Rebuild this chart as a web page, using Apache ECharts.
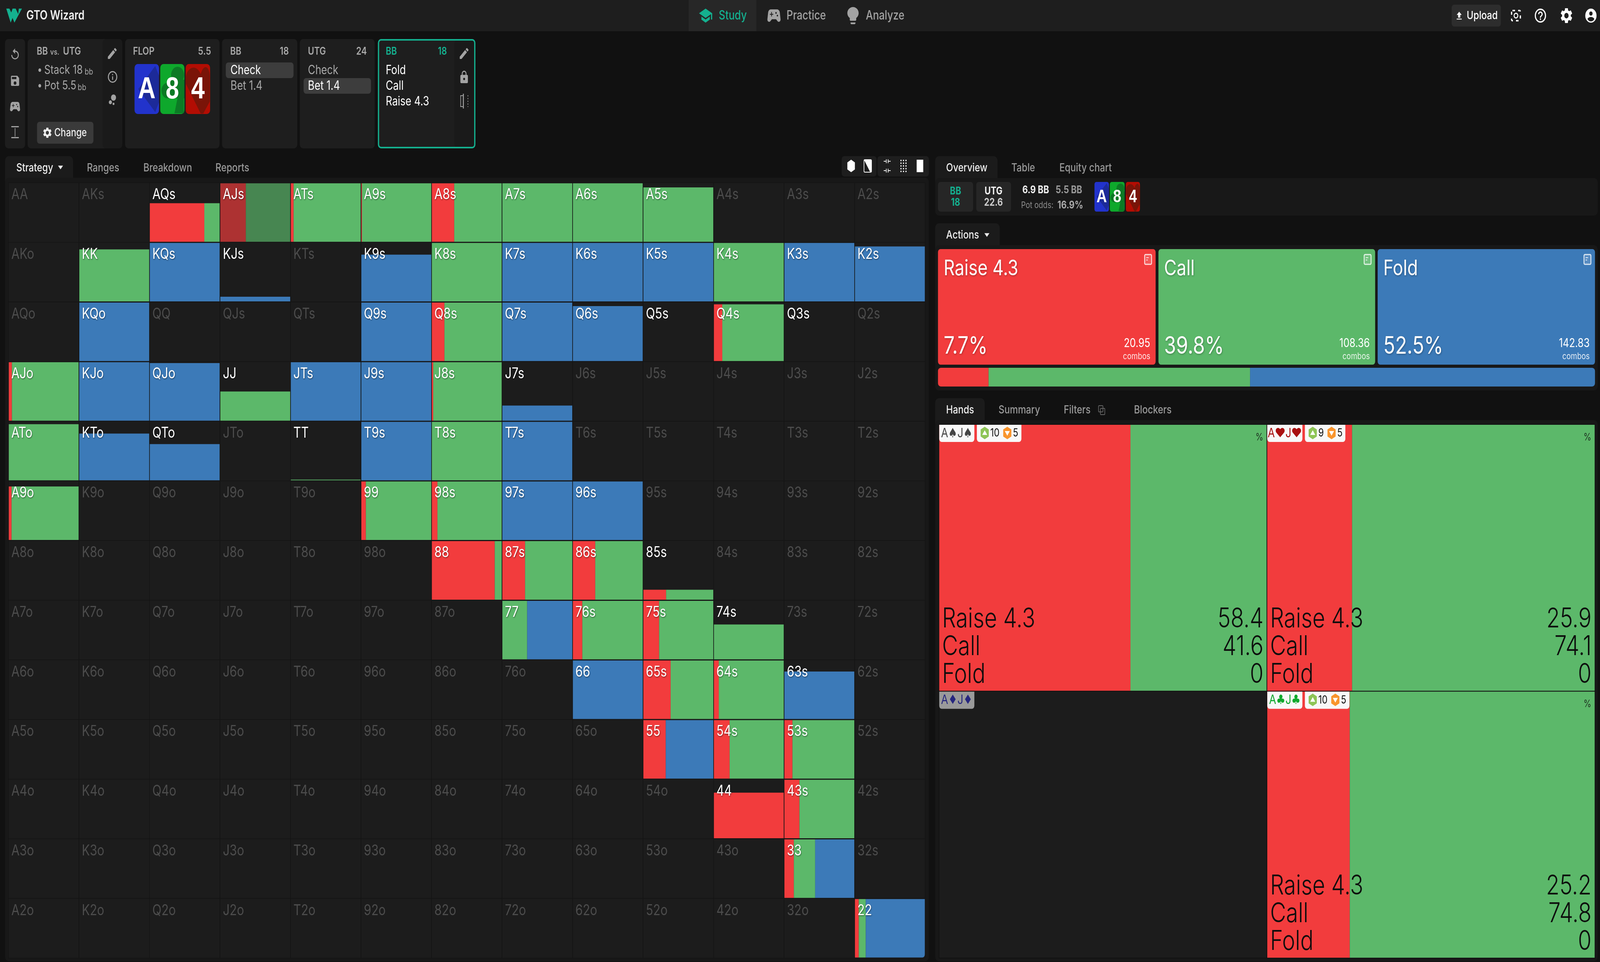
<!DOCTYPE html>
<html>
<head>
<meta charset="utf-8">
<title>GTO Wizard</title>
<script src="https://cdn.jsdelivr.net/npm/echarts@6/dist/echarts.min.js"></script>
<style>
html, body { margin: 0; padding: 0; background: #111111; overflow: hidden; }
#main { width: 100vw; height: 100vh; }
</style>
</head>
<body>
<div id="main"></div>
<script>
// ranks of the hand matrix
var ranks = ['A', 'K', 'Q', 'J', 'T', '9', '8', '7', '6', '5', '4', '3', '2'];

// how much of each hand is in the range (bar height, %)
var handWeight = [
    [0, 0, 66, 100, 100, 100, 100, 100, 100, 93, 0, 0, 0],
    [0, 89, 100, 8, 0, 80, 100, 100, 100, 100, 100, 100, 94],
    [0, 100, 0, 0, 0, 100, 100, 100, 94, 0.1, 97, 0.1, 0],
    [100, 100, 98.5, 50, 100, 100, 100, 26, 0, 0, 0, 0, 0],
    [96, 80, 62, 0, 1.2, 100, 100, 100, 0, 0, 0, 0, 0],
    [91.5, 0, 0, 0, 0, 100, 100, 100, 100, 0, 0, 0, 0],
    [0, 0, 0, 0, 0, 0, 100, 100, 100, 17, 0, 0, 0],
    [0, 0, 0, 0, 0, 0, 0, 100, 100, 100, 59.5, 0, 0],
    [0, 0, 0, 0, 0, 0, 0, 0, 100, 100, 100, 81, 0],
    [0, 0, 0, 0, 0, 0, 0, 0, 0, 100, 100, 100, 0],
    [0, 0, 0, 0, 0, 0, 0, 0, 0, 0, 78, 100, 0],
    [0, 0, 0, 0, 0, 0, 0, 0, 0, 0, 0, 100, 0],
    [0, 0, 0, 0, 0, 0, 0, 0, 0, 0, 0, 0, 100]
];
// action split inside each bar (%)
var handRaise = [
    [0, 0, 78, 36.5, 4, 1, 32, 0, 0, 0, 0, 0, 0],
    [0, 0, 0, 0, 0, 0, 0, 0, 0, 0, 0, 0, 0],
    [0, 0, 0, 0, 0, 0, 18, 0, 0, 0, 12, 0, 0],
    [4.5, 0, 0, 0, 0, 0, 2, 0, 0, 0, 0, 0, 0],
    [0, 0, 0, 0, 0, 0, 0, 0, 0, 0, 0, 0, 0],
    [4, 0, 0, 0, 0, 6.5, 8, 0, 0, 0, 0, 0, 0],
    [0, 0, 0, 0, 0, 0, 90, 32.5, 32, 32.5, 0, 0, 0],
    [0, 0, 0, 0, 0, 0, 0, 0, 13.5, 22.5, 0, 0, 0],
    [0, 0, 0, 0, 0, 0, 0, 0, 0, 39, 7, 0, 0],
    [0, 0, 0, 0, 0, 0, 0, 0, 0, 32, 22.5, 11.5, 0],
    [0, 0, 0, 0, 0, 0, 0, 0, 0, 0, 100, 21.5, 0],
    [0, 0, 0, 0, 0, 0, 0, 0, 0, 0, 0, 13.5, 0],
    [0, 0, 0, 0, 0, 0, 0, 0, 0, 0, 0, 0, 5.5]
];
var handCall = [
    [0, 0, 22, 63.5, 96, 99, 68, 100, 100, 100, 0, 0, 0],
    [0, 100, 0, 0, 0, 0, 100, 0, 0, 0, 100, 0, 0],
    [0, 0, 0, 0, 0, 0, 82, 0, 0, 0, 88, 0, 0],
    [95.5, 0, 0, 100, 0, 0, 98, 0, 0, 0, 0, 0, 0],
    [100, 0, 0, 0, 100, 0, 100, 0, 0, 0, 0, 0, 0],
    [96, 0, 0, 0, 0, 93.5, 92, 0, 0, 0, 0, 0, 0],
    [0, 0, 0, 0, 0, 0, 10, 67.5, 68, 67.5, 0, 0, 0],
    [0, 0, 0, 0, 0, 0, 0, 35.5, 86.5, 77.5, 100, 0, 0],
    [0, 0, 0, 0, 0, 0, 0, 0, 0, 61, 93, 0, 0],
    [0, 0, 0, 0, 0, 0, 0, 0, 0, 0, 77.5, 88.5, 0],
    [0, 0, 0, 0, 0, 0, 0, 0, 0, 0, 0, 78.5, 0],
    [0, 0, 0, 0, 0, 0, 0, 0, 0, 0, 0, 30.5, 0],
    [0, 0, 0, 0, 0, 0, 0, 0, 0, 0, 0, 0, 10]
];
var handFold = [
    [0, 0, 0, 0, 0, 0, 0, 0, 0, 0, 0, 0, 0],
    [0, 0, 100, 100, 0, 100, 0, 100, 100, 100, 0, 100, 100],
    [0, 100, 0, 0, 0, 100, 0, 100, 100, 100, 0, 100, 0],
    [0, 100, 100, 0, 100, 100, 0, 100, 0, 0, 0, 0, 0],
    [0, 100, 100, 0, 0, 100, 0, 100, 0, 0, 0, 0, 0],
    [0, 0, 0, 0, 0, 0, 0, 100, 100, 0, 0, 0, 0],
    [0, 0, 0, 0, 0, 0, 0, 0, 0, 0, 0, 0, 0],
    [0, 0, 0, 0, 0, 0, 0, 64.5, 0, 0, 0, 0, 0],
    [0, 0, 0, 0, 0, 0, 0, 0, 100, 0, 0, 100, 0],
    [0, 0, 0, 0, 0, 0, 0, 0, 0, 68, 0, 0, 0],
    [0, 0, 0, 0, 0, 0, 0, 0, 0, 0, 0, 0, 0],
    [0, 0, 0, 0, 0, 0, 0, 0, 0, 0, 0, 56, 0],
    [0, 0, 0, 0, 0, 0, 0, 0, 0, 0, 0, 0, 84.5]
];
var selectedHand = 'AJs';

// overview
var actionNames = ['Raise 4.3', 'Call', 'Fold'];
var actionShare = [7.7, 39.8, 52.5];
var actionCombos = ['20.95', '108.36', '142.83'];

// combos of the selected hand
var comboNames = ['A♠J♠', 'A♥J♥', 'A♦J♦', 'A♣J♣'];
var comboRaise = [58.4, 25.9, null, 25.2];
var comboCall = [41.6, 74.1, null, 74.8];
var comboFold = [0, 0, null, 0];
var comboUp = [10, 9, null, 10];
var comboDown = [5, 5, null, 5];

var RED = '#f23c3d', GREEN = '#5cb86a', BLUE = '#3c7ab8', TEAL = '#14b08f';
var FONT = 'Inter, "Noto Sans", sans-serif';
var CARD_FONT = '"Liberation Sans", Arial, sans-serif';

// the layout is written in 5102x2464 page units and scaled to the real window
var KX = window.innerWidth / 5102;
var KY = window.innerHeight / 2464;

var icons = {
    pen: 'M3 17.25V21h3.75L17.81 9.94l-3.75-3.75L3 17.25zM20.71 7.04a1 1 0 0 0 0-1.41l-2.34-2.34a1 1 0 0 0-1.41 0l-1.83 1.83 3.75 3.75 1.83-1.83z',
    save: 'M17 3H5a2 2 0 0 0-2 2v14a2 2 0 0 0 2 2h14a2 2 0 0 0 2-2V7l-4-4zm-5 16a3 3 0 1 1 0-6 3 3 0 0 1 0 6zm3-10H5V5h10v4z',
    pad: 'M21.58 16.09l-1.09-7.66A3.996 3.996 0 0 0 16.53 5H7.47C5.48 5 3.79 6.46 3.51 8.43l-1.09 7.66C2.2 17.63 3.39 19 4.94 19c.68 0 1.32-.27 1.8-.75L9 16h6l2.25 2.25c.48.48 1.13.75 1.8.75 1.56 0 2.75-1.37 2.53-2.91zM11 11H9v2H8v-2H6v-1h2V8h1v2h2v1zm4-1a1 1 0 1 1 0-2 1 1 0 0 1 0 2zm2 3a1 1 0 1 1 0-2 1 1 0 0 1 0 2z',
    refresh: 'M12 5V1L7 6l5 5V7c3.31 0 6 2.69 6 6s-2.69 6-6 6-6-2.69-6-6H4c0 4.42 3.58 8 8 8s8-3.58 8-8-3.58-8-8-8z',
    info: 'M11 7h2v2h-2zm0 4h2v6h-2zm1-9a10 10 0 1 0 0 20 10 10 0 0 0 0-20zm0 18a8 8 0 1 1 0-16 8 8 0 0 1 0 16z',
    help: 'M11 18h2v-2h-2v2zm1-16a10 10 0 1 0 0 20 10 10 0 0 0 0-20zm0 18a8 8 0 1 1 0-16 8 8 0 0 1 0 16zm0-14a4 4 0 0 0-4 4h2a2 2 0 1 1 4 0c0 2-3 1.75-3 5h2c0-2.25 3-2.5 3-5a4 4 0 0 0-4-4z',
    gear: 'M19.14 12.94c.04-.3.06-.61.06-.94 0-.32-.02-.64-.07-.94l2.03-1.58a.49.49 0 0 0 .12-.61l-1.92-3.32a.488.488 0 0 0-.59-.22l-2.39.96c-.5-.38-1.03-.7-1.62-.94l-.36-2.54a.484.484 0 0 0-.48-.41h-3.84c-.24 0-.43.17-.47.41l-.36 2.54c-.59.24-1.13.57-1.62.94l-2.39-.96c-.22-.08-.47 0-.59.22L2.74 8.87c-.12.21-.08.47.12.61l2.03 1.58c-.05.3-.09.63-.09.94s.02.64.07.94l-2.03 1.58a.49.49 0 0 0-.12.61l1.92 3.32c.12.22.37.29.59.22l2.39-.96c.5.38 1.03.7 1.62.94l.36 2.54c.05.24.24.41.48.41h3.84c.24 0 .44-.17.47-.41l.36-2.54c.59-.24 1.13-.56 1.62-.94l2.39.96c.22.08.47 0 .59-.22l1.92-3.32c.12-.22.07-.47-.12-.61l-2.01-1.58zM12 15.6A3.6 3.6 0 1 1 12 8.4a3.6 3.6 0 0 1 0 7.2z',
    user: 'M12 2a10 10 0 1 0 0 20 10 10 0 0 0 0-20zm0 4a3 3 0 1 1 0 6 3 3 0 0 1 0-6zm0 14.2a7.2 7.2 0 0 1-6-3.22c.03-1.99 4-3.08 6-3.08s5.97 1.09 6 3.08a7.2 7.2 0 0 1-6 3.22z',
    lock: 'M18 8h-1V6a5 5 0 0 0-10 0v2H6a2 2 0 0 0-2 2v10a2 2 0 0 0 2 2h12a2 2 0 0 0 2-2V10a2 2 0 0 0-2-2zm-6 9a2 2 0 1 1 0-4 2 2 0 0 1 0 4zm3.1-9H8.9V6a3.1 3.1 0 0 1 6.2 0v2z',
    upload: 'M9 16h6v-6h4l-7-7-7 7h4zm-4 2h14v2H5z',
    bulb: 'M9 21c0 .55.45 1 1 1h4c.55 0 1-.45 1-1v-1H9v1zm3-19C8.14 2 5 5.14 5 9c0 2.38 1.19 4.47 3 5.74V17c0 .55.45 1 1 1h6c.55 0 1-.45 1-1v-2.26c1.81-1.27 3-3.36 3-5.74 0-3.86-3.14-7-7-7z',
    study: 'M12 3L1 9l11 6 9-4.91V17h2V9L12 3zM5 13.18v4L12 21l7-3.82v-4L12 17l-7-3.82z',
    heart: 'M1 36C1 11 33 -4 48 26C58 -4 78 6 77 36L77 96L56 127L48 127L1 51Z'
};
// the graphic component has no plain path type, so each icon is registered as a shape
var iconRects = {};
Object.keys(icons).forEach(function (name) {
    var Clz = echarts.graphic.extendPath(icons[name], {});
    echarts.graphic.registerShape('gto-' + name, Clz);
    iconRects[name] = new Clz().getBoundingRect();
});

// ---- helpers for the page chrome ----
function box(x, y, w, h, fill, r) {
    return {type: 'rect', silent: true, shape: {x: x, y: y, width: w, height: h, r: r || 0}, style: {fill: fill}};
}
function txt(x, y, text, size, color, weight, align, family) {
    return {
        type: 'text', silent: true, x: x, y: y,
        style: {
            text: text, fill: color, fontSize: size, fontWeight: weight || 400,
            fontFamily: family || FONT, textAlign: align || 'left', textVerticalAlign: 'middle'
        }
    };
}
function icon(name, cx, cy, w, h, color) {
    var rect = iconRects[name];
    var sx = w / rect.width, sy = h / rect.height;
    return {
        type: 'gto-' + name, silent: true,
        x: cx - w / 2 - rect.x * sx, y: cy - h / 2 - rect.y * sy,
        scaleX: sx, scaleY: sy,
        style: {fill: color}
    };
}
function triangle(cx, cy, size, color) {
    return {
        type: 'polygon', silent: true,
        shape: {points: [[cx - size, cy - size * 0.6], [cx + size, cy - size * 0.6], [cx, cy + size * 0.6]]},
        style: {fill: color}
    };
}
// a board card, drawn at 78x128 and scaled
function boardCard(x, y, w, h, rank, suit) {
    var base = {A: '#2233cc', 8: '#0ea82c', 4: '#b30d03'}[rank];
    var dark = {A: '#1c2a99', 8: '#0c7a25', 4: '#7a1408'}[rank];
    var kids = [{type: 'rect', shape: {x: 0, y: 0, width: 78, height: 128, r: 10}, style: {fill: base}}];
    if (suit === 'd') {
        kids.push({type: 'polygon', shape: {points: [[66, 5], [78, 30], [78, 98], [66, 123], [12, 64]]}, style: {fill: dark}});
    } else if (suit === 'c') {
        kids.push({type: 'circle', shape: {cx: 56, cy: 28, r: 21}, style: {fill: dark}});
        kids.push({type: 'circle', shape: {cx: 24, cy: 68, r: 20}, style: {fill: dark}});
        kids.push({type: 'rect', shape: {x: 24, y: 40, width: 54, height: 48}, style: {fill: dark}});
        kids.push({type: 'polygon', shape: {points: [[60, 70], [46, 126], [76, 126], [76, 70]]}, style: {fill: dark}});
    } else {
        kids.push({type: 'gto-heart', style: {fill: dark}});
    }
    kids.push({
        type: 'text', x: 39, y: 66,
        style: {text: rank, fill: '#ffffff', fontSize: 78, fontWeight: 700, fontFamily: CARD_FONT, textAlign: 'center', textVerticalAlign: 'middle'}
    });
    return {type: 'group', silent: true, x: x, y: y, scaleX: w / 78, scaleY: h / 128, children: kids};
}

var chrome = [];
function add() { for (var i = 0; i < arguments.length; i++) chrome.push(arguments[i]); }

// top bar
add(box(0, 0, 5102, 80, '#1e1e1e'));
add({
    type: 'polygon', silent: true,
    shape: {points: [[20, 22], [30, 22], [36, 32], [40, 22], [50, 22], [58, 36], [60, 22], [70, 22], [46, 58], [40, 46], [34, 58]]},
    style: {fill: TEAL}
});
add(txt(84, 40, 'GTO Wizard', 32, '#f0f0f0', 600));
add(box(2196, 0, 216, 80, '#272727'));
add(icon('study', 2250, 40, 42, 36, TEAL), txt(2292, 40, 'Study', 32, TEAL, 500));
add(icon('pad', 2468, 40, 42, 32, '#a3a3a3'), txt(2508, 40, 'Practice', 32, '#a3a3a3', 500));
add(icon('bulb', 2720, 40, 36, 44, '#a3a3a3'), txt(2761, 40, 'Analyze', 32, '#a3a3a3', 500));
add(box(4629, 12, 157, 56, '#2d2d2d', 8));
add(icon('upload', 4653, 40, 16, 20, '#ffffff'), txt(4677, 40, 'Upload', 29, '#ffffff', 500));
add({type: 'rect', silent: true, shape: {x: 4820, y: 27, width: 28, height: 26, r: 3}, style: {fill: 'none', stroke: '#ffffff', lineWidth: 4, lineDash: [8, 10]}});
add({type: 'circle', silent: true, shape: {cx: 4834, cy: 40, r: 6}, style: {fill: 'none', stroke: '#ffffff', lineWidth: 3}});
add(icon('help', 4912, 40, 36, 36, '#ffffff'), icon('gear', 4995, 40, 36, 38, '#ffffff'), icon('user', 5073, 40, 36, 36, '#ffffff'));

// breadcrumb panels
add(box(16, 100, 64, 280, '#1e1e1e', 10));
add(icon('refresh', 48, 138, 24, 28, '#a3a3a3'), icon('save', 48, 207, 26, 26, '#a3a3a3'), icon('pad', 48, 273, 32, 24, '#a3a3a3'));
add(box(36, 323, 24, 3, '#a3a3a3'), box(36, 351, 24, 3, '#a3a3a3'), box(47, 328, 2, 22, '#a3a3a3'));

add(box(88, 100, 302, 280, '#1e1e1e', 10), box(327, 100, 63, 280, '#1a1a1a', 10));
add(txt(117, 132, 'BB', 27, '#a8a8a8', 600), txt(160, 134, 'vs.', 20, '#a8a8a8', 600), txt(201, 132, 'UTG', 27, '#a8a8a8', 600));
add(txt(119, 180, '•', 28, '#a8a8a8'), txt(141, 180, 'Stack 18', 31, '#a8a8a8'), txt(270, 184, 'bb', 22, '#a8a8a8'));
add(txt(119, 220, '•', 28, '#a8a8a8'), txt(141, 220, 'Pot 5.5', 31, '#a8a8a8'), txt(248, 224, 'bb', 22, '#a8a8a8'));
add(box(118, 312, 180, 56, '#3a3a3a', 8));
add(icon('gear', 151, 340, 26, 26, '#eeeeee'), txt(173, 341, 'Change', 28, '#eeeeee', 500));
add(icon('pen', 358, 137, 28, 28, '#a3a3a3'), icon('info', 359, 197, 30, 30, '#a3a3a3'));
add({type: 'circle', silent: true, shape: {cx: 362, cy: 250, r: 8}, style: {fill: '#a3a3a3'}});
add({type: 'circle', silent: true, shape: {cx: 352, cy: 262, r: 5}, style: {fill: '#a3a3a3'}});
add({type: 'circle', silent: true, shape: {cx: 362, cy: 266, r: 3}, style: {fill: '#a3a3a3'}});

add(box(399, 100, 301, 280, '#1e1e1e', 10));
add(txt(424, 132, 'FLOP', 27, '#a8a8a8', 600), txt(673, 132, '5.5', 27, '#a8a8a8', 600, 'right'));
add(boardCard(429, 164, 78, 128, 'A', 'd'), boardCard(511, 164, 77, 128, '8', 'c'), boardCard(592, 164, 78, 128, '4', 'h'));

add(box(708, 100, 240, 280, '#1e1e1e', 10));
add(txt(734, 132, 'BB', 27, '#a8a8a8', 600), txt(921, 132, '18', 27, '#a8a8a8', 600, 'right'));
add(box(720, 160, 216, 40, '#3d3d3d', 8));
add(txt(735, 180, 'Check', 32, '#ffffff'), txt(735, 220, 'Bet 1.4', 32, '#a8a8a8'));

add(box(956, 100, 239, 280, '#1e1e1e', 10));
add(txt(982, 132, 'UTG', 27, '#a8a8a8', 600), txt(1170, 132, '24', 27, '#a8a8a8', 600, 'right'));
add(box(968, 200, 215, 40, '#3d3d3d', 8));
add(txt(982, 180, 'Check', 32, '#a8a8a8'), txt(982, 220, 'Bet 1.4', 32, '#ffffff'));

add(box(1205, 100, 311, 280, '#1e1e1e', 10), box(1449, 104, 63, 272, '#1a1a1a', 6));
add({type: 'rect', silent: true, shape: {x: 1207, y: 102, width: 307, height: 276, r: 8}, style: {fill: 'none', stroke: TEAL, lineWidth: 4}});
add(txt(1230, 132, 'BB', 27, TEAL, 600), txt(1425, 132, '18', 27, TEAL, 600, 'right'));
add(txt(1230, 180, 'Fold', 32, '#ffffff'), txt(1230, 220, 'Call', 32, '#ffffff'), txt(1230, 260, 'Raise 4.3', 32, '#ffffff'));
add(icon('pen', 1480, 137, 28, 28, '#a3a3a3'), icon('lock', 1480, 197, 24, 32, '#a3a3a3'));
add(box(1468, 244, 2, 30, '#a3a3a3'), box(1476, 240, 3, 38, '#a3a3a3'), box(1468, 244, 8, 2, '#a3a3a3'), box(1468, 272, 8, 2, '#a3a3a3'));
add({type: 'line', silent: true, shape: {x1: 1492, y1: 244, x2: 1492, y2: 274}, style: {stroke: '#a3a3a3', lineWidth: 2, lineDash: [3, 4]}});

// left panel with the hand matrix
add(box(16, 400, 217, 70, '#1b1b1b', [12, 12, 0, 0]));
add(box(16, 455, 2946, 2007, '#181818', 12));
add(txt(52, 430, 'Strategy', 29, '#eeeeee', 500), triangle(193, 429, 8, '#eeeeee'));
add(txt(277, 430, 'Ranges', 29, '#999999', 500), txt(457, 430, 'Breakdown', 29, '#999999', 500), txt(687, 430, 'Reports', 29, '#999999', 500));
add(box(2684, 400, 111, 52, '#1e1e1e', 8), box(2798, 400, 164, 52, '#1e1e1e', 8));
add({type: 'polygon', silent: true, shape: {points: [[2714, 409], [2726, 416], [2726, 434], [2714, 441], [2702, 434], [2702, 416]]}, style: {fill: '#ffffff'}});
add({type: 'polygon', silent: true, shape: {points: [[2755, 409], [2779, 409], [2779, 441], [2775, 441]]}, style: {fill: '#ffffff'}});
add({type: 'rect', silent: true, shape: {x: 2755, y: 409, width: 24, height: 32, r: 3}, style: {fill: 'none', stroke: '#ffffff', lineWidth: 2}});
add(box(2818, 412, 8, 2, '#ffffff'), box(2832, 412, 8, 2, '#ffffff'), box(2818, 436, 8, 2, '#ffffff'), box(2832, 436, 8, 2, '#ffffff'));
add(box(2825, 408, 2, 10, '#ffffff'), box(2831, 408, 2, 10, '#ffffff'), box(2825, 432, 2, 10, '#ffffff'), box(2831, 432, 2, 10, '#ffffff'));
[2873, 2881, 2889].forEach(function (dx) {
    [411, 418, 425, 432, 439].forEach(function (dy) {
        add(box(dx - 2, dy - 2, 4, 4, '#ffffff', 2));
    });
});
add(box(2923, 409, 21, 32, '#ffffff'));

// right panels
add(box(2982, 400, 199, 70, '#1b1b1b', [12, 12, 0, 0]));
add(box(2982, 456, 2113, 96, '#181818', 12));
add(txt(3017, 430, 'Overview', 29, '#eeeeee', 500), txt(3225, 430, 'Table', 29, '#999999', 500), txt(3378, 430, 'Equity chart', 29, '#999999', 500));
add(box(2991, 466, 112, 76, '#262626', 8), box(3113, 466, 111, 76, '#262626', 8));
add(txt(3047, 490, 'BB', 27, TEAL, 700, 'center'), txt(3047, 519, '18', 27, TEAL, 700, 'center'));
add(txt(3168, 490, 'UTG', 27, '#f0f0f0', 700, 'center'), txt(3168, 519, '22.6', 27, '#cccccc', 700, 'center'));
add(txt(3260, 487, '6.9 BB', 27, '#f0f0f0', 700), txt(3366, 487, '5.5 BB', 27, '#999999', 700));
add(txt(3256, 526, 'Pot odds:', 23, '#8a8a8a', 400), txt(3372, 526, '16.9%', 27, '#aaaaaa', 700));
add(boardCard(3490, 466, 46, 76, 'A', 'd'), boardCard(3539, 466, 47, 76, '8', 'c'), boardCard(3590, 466, 45, 76, '4', 'h'));

add(box(2982, 572, 206, 70, '#1b1b1b', [12, 12, 0, 0]));
add(box(2982, 628, 2113, 372, '#181818', 12));
add(txt(3017, 602, 'Actions', 29, '#eeeeee', 500), triangle(3147, 602, 8, '#eeeeee'));

var actionColors = [RED, GREEN, BLUE];
var cardLefts = [2991, 3694, 4393];
var cardWidths = [694, 691, 693];
actionNames.forEach(function (name, i) {
    var x = cardLefts[i], w = cardWidths[i];
    var shadow = {textShadowColor: 'rgba(0,0,0,0.3)', textShadowBlur: 4, textShadowOffsetX: 1, textShadowOffsetY: 2};
    add(box(x, 638, w, 296, actionColors[i], 8));
    var title = txt(x + 18, 688, name, 55, '#ffffff', 400);
    var pct = txt(x + 18, 887, actionShare[i] + '%', 62, '#ffffff', 400);
    Object.assign(title.style, shadow);
    Object.assign(pct.style, shadow);
    add(title, pct);
    add(txt(x + w - 17, 880, actionCombos[i], 31, '#ffffff', 400, 'right'), txt(x + w - 17, 913, 'combos', 23, 'rgba(255,255,255,0.85)', 400, 'right'));
    add({type: 'rect', silent: true, shape: {x: x + w - 35, y: 652, width: 22, height: 25, r: 3}, style: {fill: 'rgba(255,255,255,0.15)', stroke: 'rgba(255,255,255,0.8)', lineWidth: 3}});
    add(box(x + w - 30, 659, 8, 2, 'rgba(255,255,255,0.85)'), box(x + w - 30, 665, 5, 2, 'rgba(255,255,255,0.85)'));
});

add(box(2982, 1020, 158, 70, '#1b1b1b', [12, 12, 0, 0]));
add(box(2982, 1076, 2113, 1386, '#181818', 12));
add(txt(3017, 1050, 'Hands', 29, '#eeeeee', 500), txt(3184, 1050, 'Summary', 29, '#999999', 500), txt(3392, 1050, 'Filters', 29, '#999999', 500), txt(3616, 1050, 'Blockers', 29, '#999999', 500));
add({type: 'rect', silent: true, shape: {x: 3503, y: 1039, width: 14, height: 16, r: 2}, style: {fill: 'none', stroke: '#666666', lineWidth: 2}});
add({type: 'rect', silent: true, shape: {x: 3509, y: 1046, width: 14, height: 16, r: 2}, style: {fill: 'none', stroke: '#666666', lineWidth: 2}});

// ---- hand matrix ----
function handName(row, col) {
    if (row === col) return ranks[row] + ranks[col];
    return row < col ? ranks[row] + ranks[col] + 's' : ranks[col] + ranks[row] + 'o';
}
var matrixCells = [];
ranks.forEach(function (r, row) {
    ranks.forEach(function (c, col) {
        matrixCells.push([col, row]);
    });
});
function renderMatrixCell(params, api) {
    var col = api.value(0), row = api.value(1);
    var p = api.coord([col, row]);
    var size = api.size([1, 1]);
    // children are in page units, the group carries the window scale
    var w = size[0] / KX, h = size[1] / KY;
    var weight = handWeight[row][col];
    var name = handName(row, col);
    var dimmed = name === selectedHand;
    var kids = [{
        type: 'rect',
        shape: {x: 0, y: 0, width: w, height: h},
        style: {fill: '#1c1c1c', stroke: '#141414', lineWidth: 1.5}
    }];
    if (weight > 0) {
        var barH = (h - 3) * weight / 100;
        var segs = [[handRaise[row][col], RED], [handCall[row][col], GREEN], [handFold[row][col], BLUE]];
        var x = 1;
        segs.forEach(function (seg) {
            if (!seg[0]) return;
            var segW = (w - 2) * seg[0] / 100;
            kids.push({
                type: 'rect',
                shape: {x: x, y: h - 1.5 - barH, width: segW, height: barH, r: (row === 12 && col === 12 && seg[1] === BLUE) ? [0, 0, 8, 0] : 0},
                style: {fill: seg[1], opacity: dimmed ? 0.68 : 1}
            });
            x += segW;
        });
    }
    kids.push({
        type: 'text',
        style: {
            text: name, x: 9, y: 31,
            fill: weight > 0 ? '#ffffff' : '#4c4c4c',
            fontSize: 38, fontWeight: 400, fontFamily: FONT,
            textAlign: 'left', textVerticalAlign: 'middle',
            textShadowColor: weight > 0 ? 'rgba(0,0,0,0.45)' : 'transparent',
            textShadowBlur: 3, textShadowOffsetX: 1, textShadowOffsetY: 2
        }
    });
    return {type: 'group', x: p[0], y: p[1], scaleX: KX, scaleY: KY, children: kids};
}

// ---- combos of the selected hand ----
var comboCells = [[0, 0], [1, 0], [0, 1], [1, 1]];
var tagColors = ['#444444', '#a90f0f', '#26267f', '#0ea82c'];
function shield(cx, cy, color, up) {
    return [
        {type: 'polygon', shape: {points: [[cx, cy - 16], [cx + 13, cy - 9], [cx + 13, cy + 9], [cx, cy + 16], [cx - 13, cy + 9], [cx - 13, cy - 9]]}, style: {fill: color}},
        {type: 'polygon', shape: {points: up ? [[cx, cy - 7], [cx + 8, cy + 5], [cx - 8, cy + 5]] : [[cx, cy + 7], [cx + 8, cy - 5], [cx - 8, cy - 5]]}, style: {fill: '#ffffff'}}
    ];
}
function line(x, y, text, size, align, weight) {
    return {
        type: 'text',
        style: {text: text, x: x, y: y, fill: '#0d0d0d', fontSize: size, fontWeight: weight || 300, fontFamily: FONT, textAlign: align, textVerticalAlign: 'middle'}
    };
}
function renderComboCell(params, api) {
    var i = params.dataIndex;
    var p = api.coord([api.value(0), api.value(1)]);
    var size = api.size([1, 1]);
    var w = size[0] / KX, h = size[1] / KY;
    var kids = [{type: 'rect', shape: {x: 0, y: 0, width: w, height: h}, style: {fill: '#1c1c1c', stroke: '#111111', lineWidth: 2}}];
    var raise = comboRaise[i];
    var empty = raise === null;
    var left = 1, top = 1;
    if (!empty) {
        var x = left, inner = w - 2;
        [[raise, RED], [comboCall[i], GREEN], [comboFold[i], BLUE]].forEach(function (seg) {
            if (!seg[0]) return;
            kids.push({type: 'rect', shape: {x: x, y: top, width: inner * seg[0] / 100, height: h - 2}, style: {fill: seg[1]}});
            x += inner * seg[0] / 100;
        });
    }
    kids.push({type: 'rect', shape: {x: left, y: top, width: 112, height: 44, r: [0, 0, 8, 8]}, style: {fill: empty ? '#9a9a9a' : '#f8f8f8'}});
    kids.push({
        type: 'text',
        style: {text: comboNames[i], x: left + 56, y: top + 22, fill: tagColors[i], fontSize: 33, fontFamily: 'Inter, "DejaVu Sans", sans-serif', textAlign: 'center', textVerticalAlign: 'middle'}
    });
    if (!empty) {
        var up = String(comboUp[i]);
        var two = up.length > 1;
        var tagW = two ? 142 : 129;
        kids.push({type: 'rect', shape: {x: left + 120, y: top, width: tagW, height: 44, r: [0, 0, 8, 8]}, style: {fill: '#f8f8f8'}});
        kids = kids.concat(shield(left + 145, top + 21, '#8ec456', true));
        kids.push(line(left + 163, top + 22, up, 28, 'left', 400));
        var dx = two ? 217 : 205;
        kids = kids.concat(shield(left + dx, top + 21, '#f9952d', false));
        kids.push(line(left + dx + 18, top + 22, String(comboDown[i]), 28, 'left', 400));

        kids.push(line(w - 12, top + 32, '%', 26, 'right', 300));
        var vals = [raise, comboCall[i], comboFold[i]];
        actionNames.forEach(function (n, k) {
            var y = 499 + k * 71;
            kids.push(line(10, y, n, 70, 'left', 300));
            kids.push(line(w - 11, y, String(vals[k]), 70, 'right', 300));
        });
    }
    return {type: 'group', x: p[0], y: p[1], scaleX: KX, scaleY: KY, children: kids};
}

var chart = echarts.init(document.getElementById('main'), null, {renderer: 'canvas'});
chart.setOption({
    backgroundColor: '#111111',
    animation: false,
    textStyle: {fontFamily: FONT},
    graphic: {elements: [{type: 'group', silent: true, scaleX: KX, scaleY: KY, children: chrome}]},
    grid: [
        {left: 27 * KX, top: 468 * KY, width: 2923 * KX, height: 1986 * KY},
        {left: 2991 * KX, top: 942 * KY, width: 2095 * KX, height: 48 * KY},
        {left: 2994 * KX, top: 1087 * KY, width: 2092 * KX, height: 1367 * KY}
    ],
    xAxis: [
        {gridIndex: 0, type: 'value', min: 0, max: 13, interval: 1, show: false},
        {gridIndex: 1, type: 'value', min: 0, max: 100, interval: 100, show: false},
        {gridIndex: 2, type: 'value', min: 0, max: 2, interval: 1, show: false}
    ],
    yAxis: [
        {gridIndex: 0, type: 'value', min: 0, max: 13, interval: 1, inverse: true, show: false},
        {gridIndex: 1, type: 'category', data: ['Actions'], show: false},
        {gridIndex: 2, type: 'value', min: 0, max: 2, interval: 1, inverse: true, show: false}
    ],
    series: [
        {type: 'custom', xAxisIndex: 0, yAxisIndex: 0, clip: false, silent: true, data: matrixCells, renderItem: renderMatrixCell},
        {type: 'custom', xAxisIndex: 2, yAxisIndex: 2, clip: false, silent: true, data: comboCells, renderItem: renderComboCell}
    ].concat(actionNames.map(function (name, i) {
        return {
            type: 'bar', name: name, xAxisIndex: 1, yAxisIndex: 1, stack: 'share', silent: true,
            barWidth: '100%', data: [actionShare[i]],
            itemStyle: {color: actionColors[i], borderRadius: i === 0 ? [8, 0, 0, 8] : i === 2 ? [0, 8, 8, 0] : 0}
        };
    }))
});
</script>
</body>
</html>
